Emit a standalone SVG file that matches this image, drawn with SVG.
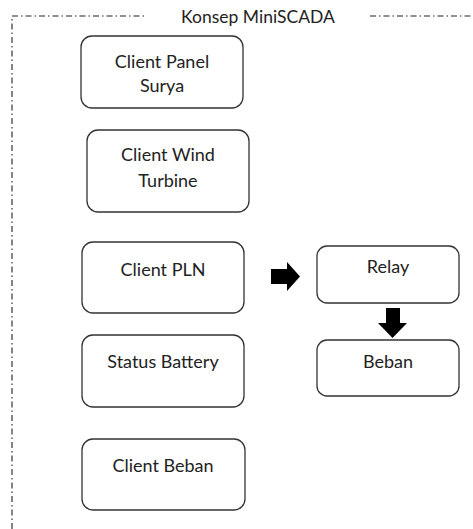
<svg xmlns="http://www.w3.org/2000/svg" width="473" height="529" viewBox="0 0 473 529">
  <style>
    .box { fill: #ffffff; stroke: #333333; stroke-width: 1.3; }
    .lbl { font-family: Lato, "Liberation Sans", sans-serif; font-size: 18px; fill: #222222; text-anchor: middle; }
    .frame { fill: none; stroke: #222222; stroke-width: 1.1; stroke-dasharray: 6 3 1.5 3; }
    .arrow { fill: #000000; }
  </style>
  <rect width="473" height="529" fill="#ffffff"/>

  <!-- dashed outline of the concept area -->
  <g id="frame">
    <path class="frame" d="M12,529 V16 H144"/>
    <path class="frame" d="M370,16 H473"/>
    <text class="lbl" x="258" y="23" style="font-size:17.5px">Konsep MiniSCADA</text>
  </g>

  <g id="client-panel-surya">
    <rect class="box" x="81" y="36" width="162" height="72" rx="11"/>
    <text class="lbl" x="162" y="68">Client Panel</text>
    <text class="lbl" x="162" y="92">Surya</text>
  </g>

  <g id="client-wind-turbine">
    <rect class="box" x="87" y="130" width="162" height="82" rx="11"/>
    <text class="lbl" x="168" y="161">Client Wind</text>
    <text class="lbl" x="168" y="187">Turbine</text>
  </g>

  <g id="client-pln">
    <rect class="box" x="82" y="242" width="162" height="71" rx="11"/>
    <text class="lbl" x="163" y="276">Client PLN</text>
  </g>

  <g id="status-battery">
    <rect class="box" x="82" y="335" width="162" height="72" rx="11"/>
    <text class="lbl" x="163" y="368">Status Battery</text>
  </g>

  <g id="client-beban">
    <rect class="box" x="82" y="439" width="163" height="71" rx="11"/>
    <text class="lbl" x="163" y="472">Client Beban</text>
  </g>

  <g id="relay">
    <rect class="box" x="317" y="246" width="142" height="57" rx="10"/>
    <text class="lbl" x="388" y="273">Relay</text>
  </g>

  <g id="beban">
    <rect class="box" x="317" y="340" width="142" height="56" rx="10"/>
    <text class="lbl" x="388" y="368">Beban</text>
  </g>

  <!-- block arrows -->
  <g id="connectors">
    <path class="arrow" d="M271,269 H287 V262 L300,276.5 L287,291 V284 H271 Z"/>
    <path class="arrow" d="M386,308 H400 V323 H407 L392.5,338 L378,323 H386 Z"/>
  </g>
</svg>
